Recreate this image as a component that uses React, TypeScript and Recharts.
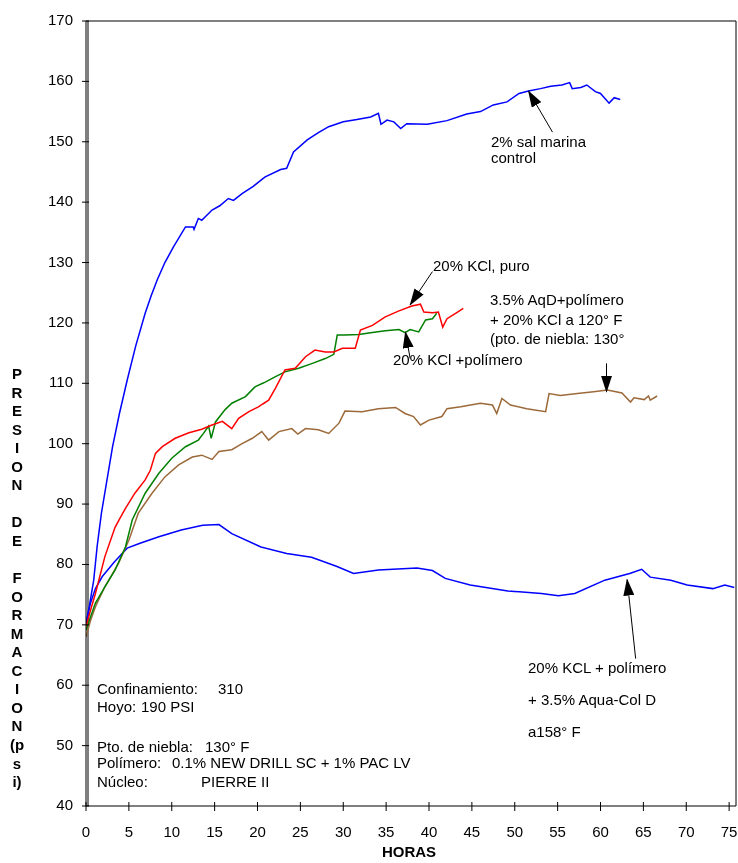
import { Line, LineChart, ReferenceLine, XAxis, YAxis } from "recharts";

// 2% sal marina (control)
const controlHours = [0, 0.4, 0.9, 1.3, 1.8, 2.4, 3.1, 3.9, 4.8, 5.8, 6.9, 7.6, 8.3, 9.2, 10.2, 11.6, 12.5, 12.6, 13.1, 13.5, 14.7, 15.6, 16.6, 17.2, 18.2, 19.5, 20.9, 22.7, 23.4, 24.2, 25.8, 27.1, 28.3, 30.0, 31.6, 33.2, 34.1, 34.4, 35.1, 35.9, 36.7, 37.4, 39.8, 42.1, 44.4, 46.0, 47.5, 49.1, 50.5, 51.6, 53.0, 54.2, 55.5, 56.4, 56.7, 57.7, 58.4, 59.4, 60.0, 61.0, 61.6, 62.3];
const controlPsi = [70.3, 73.2, 77.4, 83.0, 88.5, 93.6, 99.5, 105.0, 110.5, 116.2, 121.6, 124.5, 127.1, 130.0, 132.6, 135.9, 135.9, 135.5, 137.3, 137.0, 138.7, 139.4, 140.6, 140.3, 141.4, 142.6, 144.2, 145.4, 145.6, 148.3, 150.3, 151.5, 152.5, 153.3, 153.7, 154.1, 154.7, 152.9, 153.6, 153.3, 152.2, 153.0, 152.9, 153.5, 154.6, 155.0, 156.1, 156.6, 158.0, 158.4, 158.8, 159.2, 159.4, 159.8, 158.8, 159.0, 159.4, 158.3, 158.0, 156.4, 157.3, 157.0];

// 20% KCl, puro
const kclHours = [0, 0.5, 1.1, 2.2, 3.4, 4.6, 5.7, 6.9, 7.5, 8.1, 8.9, 10.4, 12.0, 13.5, 14.7, 15.9, 17.0, 17.8, 19.0, 20.1, 21.3, 22.1, 23.2, 24.4, 25.6, 26.7, 27.9, 28.9, 29.9, 31.4, 32.0, 33.4, 34.9, 36.5, 38.0, 39.0, 39.4, 40.4, 41.1, 41.6, 42.1, 43.1, 44.0];
const kclPsi = [69.7, 72.3, 75.2, 81.3, 86.2, 89.3, 91.8, 94.0, 95.6, 98.4, 99.5, 100.9, 101.8, 102.4, 103.1, 103.7, 102.5, 104.2, 105.3, 106.1, 107.2, 109.2, 112.2, 112.5, 114.4, 115.5, 115.2, 115.2, 115.8, 115.8, 118.8, 119.6, 121.0, 122.0, 122.8, 123.1, 121.8, 121.7, 121.8, 119.3, 120.7, 121.6, 122.4];

// 20% KCl + polímero
const kclPolyHours = [0, 0.5, 1.1, 2.2, 3.4, 4.6, 5.4, 6.9, 8.5, 10.0, 11.6, 13.1, 13.7, 14.3, 14.6, 15.1, 16.2, 17.0, 18.6, 19.7, 20.9, 22.1, 23.2, 24.8, 26.4, 27.9, 28.9, 29.3, 30.2, 31.8, 33.4, 34.9, 36.5, 37.2, 37.8, 38.8, 39.6, 40.4, 40.9];
const kclPolyPsi = [69.1, 71.2, 73.6, 76.3, 79.1, 82.9, 87.4, 91.8, 95.1, 97.6, 99.5, 100.6, 101.7, 102.9, 100.9, 103.6, 105.6, 106.7, 107.8, 109.4, 110.2, 111.1, 111.9, 112.5, 113.3, 114.1, 114.8, 118.0, 118.0, 118.1, 118.4, 118.7, 118.9, 118.4, 118.9, 118.5, 120.5, 120.7, 121.6];

// 3.5% AqD + polímero + 20% KCl a 120° F
const aqdHours = [0, 0.5, 1.1, 2.2, 3.8, 5.0, 6.1, 7.7, 9.2, 10.8, 12.4, 13.5, 14.7, 15.5, 17.0, 18.2, 19.4, 20.5, 21.3, 22.5, 24.0, 24.7, 25.6, 27.1, 28.3, 29.5, 30.2, 32.2, 34.1, 36.1, 37.2, 38.2, 39.0, 40.0, 41.5, 42.1, 43.7, 46.0, 47.4, 47.9, 48.5, 49.5, 51.4, 53.6, 54.0, 55.3, 57.3, 59.2, 60.8, 62.5, 63.5, 63.9, 65.1, 65.6, 65.8, 66.6];
const aqdPsi = [68.0, 70.6, 73.0, 76.3, 80.2, 84.0, 88.5, 91.8, 94.5, 96.5, 97.8, 98.1, 97.4, 98.7, 99.0, 100.0, 100.9, 102.0, 100.6, 102.0, 102.5, 101.6, 102.5, 102.3, 101.7, 103.4, 105.4, 105.3, 105.8, 106.0, 105.0, 104.5, 103.1, 103.9, 104.5, 105.8, 106.1, 106.7, 106.4, 105.0, 107.5, 106.4, 105.8, 105.3, 108.3, 108.0, 108.3, 108.6, 108.9, 108.4, 106.9, 107.6, 107.3, 107.9, 107.2, 107.9];

// 20% KCL + polímero + 3.5% Aqua-Col D a 158° F
const aquaColHours = [0, 0.5, 1.1, 1.9, 3.3, 4.8, 6.3, 8.5, 11.1, 13.6, 15.5, 17.0, 20.4, 23.4, 26.3, 29.2, 31.2, 34.1, 38.6, 40.4, 41.9, 44.8, 49.2, 53.1, 55.1, 57.0, 60.5, 63.4, 64.8, 65.8, 68.2, 70.1, 73.1, 74.5, 75.6];
const aquaColPsi = [70.0, 73.5, 76.0, 78.0, 80.4, 82.7, 83.5, 84.6, 85.7, 86.5, 86.6, 85.1, 82.9, 81.8, 81.2, 79.7, 78.5, 79.1, 79.4, 79.0, 77.7, 76.6, 75.6, 75.2, 74.8, 75.2, 77.4, 78.5, 79.2, 77.9, 77.4, 76.6, 76.0, 76.6, 76.2];

const hourTicks = [0, 5, 10, 15, 20, 25, 30, 35, 40, 45, 50, 55, 60, 65, 70, 75];
const psiTicks = [40, 50, 60, 70, 80, 90, 100, 110, 120, 130, 140, 150, 160, 170];

// callout arrows, tail -> head, in hours / psi
const pointers = [
  { from: [54.4, 151.6], to: [51.6, 158.4] },
  { from: [40.4, 128.5], to: [37.8, 123.0] },
  { from: [37.8, 114.1], to: [37.25, 118.5] },
  { from: [60.7, 113.3], to: [60.7, 108.6] },
  { from: [64.1, 64.4], to: [63.1, 77.5] },
];

const axisLabel = ["P", "R", "E", "S", "I", "O", "N", "", "D", "E", "", "F", "O", "R", "M", "A", "C", "I", "O", "N", "(p", "s", "i)"];

const toPoints = (hours: number[], psi: number[]) =>
  hours.map((h, i) => ({ h, psi: psi[i] }));

const series = [
  { name: "control", data: toPoints(controlHours, controlPsi), color: "#0000ff" },
  { name: "aquacol", data: toPoints(aquaColHours, aquaColPsi), color: "#0000ff" },
  { name: "aqd", data: toPoints(aqdHours, aqdPsi), color: "#9c6a3a" },
  { name: "kclpoly", data: toPoints(kclPolyHours, kclPolyPsi), color: "#008000" },
  { name: "kcl", data: toPoints(kclHours, kclPsi), color: "#ff0000" },
];

const FONT = "'Liberation Sans', Arial, sans-serif";
const PLOT_LEFT = 78;
const PLOT_TOP = 13;
const PLOT_BOTTOM = 798;

const YTick = ({ x, y, payload }: any) => (
  <g>
    <line x1={x + 4} x2={x + 11} y1={y} y2={y} stroke="#000" />
    <text x={x - 5} y={y + 4} textAnchor="end" fontSize={15} fontFamily={FONT} fill="#000">
      {payload.value}
    </text>
  </g>
);

const XTick = ({ x, y, payload }: any) => (
  <g>
    <line x1={x} x2={x} y1={y - 12} y2={y - 3} stroke="#000" />
    <text x={x} y={y + 23} textAnchor="middle" fontSize={15} fontFamily={FONT} fill="#000">
      {payload.value}
    </text>
  </g>
);

const note = { fontSize: 15, fontFamily: FONT, fill: "#000" };

export default function App() {
  return (
    // fixed so the 730x855 chart never pushes the page into scrolling
    <div style={{ position: "fixed", left: 8, top: 8 }}>
      <LineChart width={730} height={855} margin={{ top: PLOT_TOP, right: 2, left: 0, bottom: 0 }}>
        <defs>
          <marker id="head" markerUnits="userSpaceOnUse" markerWidth={17} markerHeight={11} refX={16} refY={5.5} orient="auto">
            <path d="M0,0 L17,5.5 L0,11 z" fill="#000" />
          </marker>
        </defs>
        <XAxis
          type="number"
          dataKey="h"
          domain={[0, 75.8]}
          ticks={hourTicks}
          allowDataOverflow
          height={57}
          tickSize={4}
          tickMargin={4}
          tickLine={false}
          axisLine={{ stroke: "#000" }}
          tick={<XTick />}
          interval={0}
        />
        <YAxis
          type="number"
          dataKey="psi"
          domain={[40, 170]}
          ticks={psiTicks}
          allowDataOverflow
          width={PLOT_LEFT}
          tickSize={4}
          tickMargin={4}
          tickLine={false}
          axisLine={{ stroke: "#000" }}
          tick={<YTick />}
          interval={0}
        />
        <ReferenceLine y={170} stroke="#000" />
        <ReferenceLine x={75.8} stroke="#000" />
        {series.map((s) => (
          <Line
            key={s.name}
            data={s.data}
            dataKey="psi"
            type="linear"
            stroke={s.color}
            strokeWidth={1.5}
            dot={false}
            isAnimationActive={false}
          />
        ))}
        {pointers.map((p, i) => (
          <ReferenceLine
            key={i}
            segment={[
              { x: p.from[0], y: p.from[1] },
              { x: p.to[0], y: p.to[1] },
            ]}
            stroke="#000"
            strokeWidth={1}
            markerEnd="url(#head)"
          />
        ))}
        {/* second stroke of the doubled value axis */}
        <line x1={PLOT_LEFT + 2} x2={PLOT_LEFT + 2} y1={PLOT_TOP} y2={PLOT_BOTTOM} stroke="#000" />

        <text {...note}>
          <tspan x={483} y={139}>2% sal marina</tspan>
          <tspan x={483} y={155}>control</tspan>
        </text>
        <text {...note} x={425} y={263}>20% KCl, puro</text>
        <text {...note}>
          <tspan x={482} y={297}>3.5% AqD+polímero</tspan>
          <tspan x={482} y={317}>+ 20% KCl a 120° F</tspan>
          <tspan x={482} y={336}>(pto. de niebla: 130°</tspan>
        </text>
        <text {...note} x={385} y={357}>20% KCl +polímero</text>
        <text {...note}>
          <tspan x={520} y={665}>20% KCL + polímero</tspan>
          <tspan x={520} y={697}>+ 3.5% Aqua-Col D</tspan>
          <tspan x={520} y={729}>a158° F</tspan>
        </text>

        <text {...note}>
          <tspan x={89} y={686}>Confinamiento:</tspan>
          <tspan x={210} y={686}>310</tspan>
          <tspan x={89} y={704}>Hoyo:</tspan>
          <tspan x={133} y={704}>190 PSI</tspan>
          <tspan x={89} y={744}>Pto. de niebla:</tspan>
          <tspan x={197} y={744}>130° F</tspan>
          <tspan x={89} y={760}>Polímero:</tspan>
          <tspan x={164} y={760}>0.1% NEW DRILL SC + 1% PAC LV</tspan>
          <tspan x={89} y={779}>Núcleo:</tspan>
          <tspan x={193} y={779}>PIERRE II</tspan>
        </text>

        <text fontSize={15} fontWeight="bold" fontFamily={FONT} textAnchor="middle" fill="#000">
          {axisLabel.map((c, i) =>
            c ? (
              <tspan key={i} x={9} y={371 + i * 18.55}>
                {c}
              </tspan>
            ) : null
          )}
        </text>
        <text x={401} y={849} fontSize={15} fontWeight="bold" fontFamily={FONT} textAnchor="middle" fill="#000">
          HORAS
        </text>
      </LineChart>
    </div>
  );
}
